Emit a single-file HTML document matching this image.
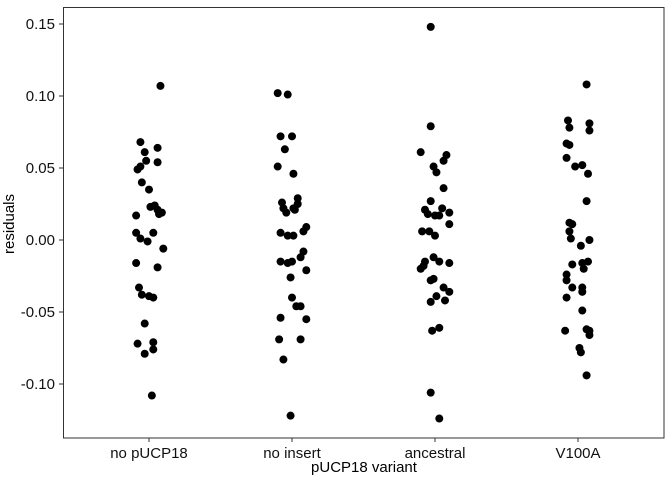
<!DOCTYPE html>
<html><head><meta charset="utf-8"><style>
body{margin:0;background:#fff}
svg{display:block;font-family:"Liberation Sans",sans-serif}
</style></head><body>
<svg id="chart" width="672" height="480">
<rect x="0" y="0" width="672" height="480" fill="#fff"/>
<rect x="63.5" y="7.5" width="600.5" height="430.5" fill="none" stroke="#333" stroke-width="1"/>
<g id="yaxis"></g>
<g id="xaxis"></g>
<g id="points"></g>
<text x="14" y="224" transform="rotate(-90 14 224)" text-anchor="middle" font-size="15" fill="#000">residuals</text>
<text x="364" y="472" text-anchor="middle" font-size="15" fill="#000">pUCP18 variant</text>
</svg>
<script>
const categories = ["no pUCP18","no insert","ancestral","V100A"];
const yTicks = [0.15,0.10,0.05,0.00,-0.05,-0.10];
const yTickLabels = ["0.15","0.10","0.05","0.00","-0.05","-0.10"];
const resNoPUCP = [.107,.068,.064,.061,.055,.054,.051,.049,.040,.035,.023,.024,.021,.019,.018,.017,.005,.005,.001,-.001,-.006,-.016,-.019,-.033,-.038,-.039,-.040,-.058,-.072,-.071,-.076,-.079,-.108];
const jitNoPUCP = [.08,-.06,.06,-.03,-.02,.06,-.06,-.08,-.05,0,.01,.04,.06,.09,.07,-.09,-.09,.03,-.06,-.01,.1,-.09,.06,-.07,-.05,0,.03,-.03,-.08,.03,.03,-.03,.02];
const resNoInsert = [.102,.101,.072,.072,.063,.051,.046,.029,.025,.026,.022,.019,.022,.021,.005,.003,.003,.009,.006,-.015,-.016,-.015,-.008,-.012,-.021,-.026,-.040,-.046,-.046,-.054,-.055,-.069,-.069,-.083,-.122];
const jitNoInsert = [-.10,-.03,-.08,0,-.05,-.10,.01,.04,.04,-.07,-.06,-.04,.01,.02,-.08,-.03,.01,.1,.08,-.08,-.03,0,.08,.06,.1,-.01,0,.03,.06,-.08,.1,-.09,.06,-.06,-.01];
const resAncestral = [.148,.079,.061,.059,.055,.051,.047,.036,.027,.021,.018,.017,.017,.022,.019,.011,.006,.006,.003,-.012,-.015,-.016,-.015,-.018,-.020,-.027,-.028,-.033,-.036,-.039,-.043,-.042,-.061,-.063,-.106,-.124];
const jitAncestral = [-.03,-.03,-.1,.08,.06,-.01,.01,.06,-.03,-.07,-.05,0,.03,.05,.1,.1,-.09,-.04,0,-.01,.03,.1,-.07,-.08,-.1,-.01,-.03,.06,.1,.01,-.03,.07,.03,-.02,-.03,.03];
const resV100A = [.108,.083,.081,.078,.076,.067,.066,.057,.051,.052,.046,.027,.012,.011,.006,.001,0,-.004,-.017,-.016,-.015,-.020,-.024,-.028,-.033,-.033,-.036,-.040,-.049,-.063,-.062,-.063,-.066,-.075,-.078,-.094];
const jitV100A = [.06,-.07,.08,-.06,.08,-.08,-.06,-.08,-.02,.03,.07,.06,-.06,-.04,-.06,-.05,.08,.02,-.04,.03,.07,.04,-.08,-.08,-.04,.03,.03,-.08,.03,-.09,.06,.08,.08,.01,.02,.06];
const series = [[resNoPUCP,jitNoPUCP],[resNoInsert,jitNoInsert],[resAncestral,jitAncestral],[resV100A,jitV100A]];

const NS="http://www.w3.org/2000/svg";
function xScale(c){return 149+143*c;}
function yScale(v){return 240-v*1440;}
function mk(tag,attrs,parent){const e=document.createElementNS(NS,tag);for(const k in attrs)e.setAttribute(k,attrs[k]);parent.appendChild(e);return e;}

const ya=document.getElementById('yaxis');
yTicks.forEach((t,i)=>{
  const y=yScale(t);
  const l=mk('line',{x1:59,x2:63,y1:y,y2:y,stroke:'#333'},ya);
  
  
  const tx=mk('text',{x:55,y:y+5,'text-anchor':'end','font-size':15,fill:'#111'},ya);
  tx.textContent=yTickLabels[i];
  
  
});
const xa=document.getElementById('xaxis');
categories.forEach((c,i)=>{
  const x=xScale(i);
  const l=mk('line',{x1:x,x2:x,y1:438,y2:442,stroke:'#333'},xa);
  
  
  const tx=mk('text',{x:x,y:458,'text-anchor':'middle','font-size':15,fill:'#111'},xa);
  tx.textContent=c;
  
  
});
const pg=document.getElementById('points');
series.forEach((s,i)=>{
  s[0].forEach((v,j)=>{
    const p=mk('circle',{cx:xScale(i+s[1][j]),cy:yScale(v),r:4,fill:'#000'},pg);
    
    
  });
});
</script>
</body></html>
